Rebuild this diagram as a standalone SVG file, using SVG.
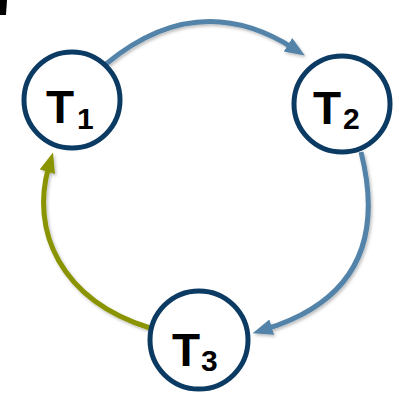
<svg xmlns="http://www.w3.org/2000/svg" width="399" height="394" viewBox="0 0 399 394">
<style>
.node circle{fill:#fff;stroke:#0b3a63;stroke-width:5}
.big{font-family:"Liberation Sans",Arial,sans-serif;font-weight:bold;font-size:46px;fill:#000}
.sub{font-family:"Liberation Sans",Arial,sans-serif;font-weight:bold;font-size:30px;fill:#000}
.e{fill:none;stroke-width:5;filter:url(#sh)}
.blue{stroke:#5283a8}
.olive{stroke:#8a9400}
</style>
<defs>
<filter id="sh" x="-20%" y="-20%" width="140%" height="140%">
<feDropShadow dx="1.5" dy="2" stdDeviation="1.5" flood-color="#000" flood-opacity="0.25"/>
</filter>
<marker id="ab" markerUnits="userSpaceOnUse" markerWidth="22" markerHeight="18" refX="6" refY="8" orient="auto">
<path d="M0,0 L20,8 L0,16 z" fill="#5283a8"/>
</marker>
<marker id="ao" markerUnits="userSpaceOnUse" markerWidth="22" markerHeight="18" refX="6" refY="8" orient="auto">
<path d="M0,0 L20,8 L0,16 z" fill="#8a9400"/>
</marker>
</defs>
<path d="M0,0 L7,0 L6,15 L0,15 z" fill="#000"/>
<g id="connectors">
<path class="e blue" d="M106,64 Q198,-12 293,48" marker-end="url(#ab)"/>
<path class="e blue" d="M361,152 C382,235 360,300 266,329" marker-end="url(#ab)"/>
<path class="e olive" d="M150,328 C60,300 30,230 49,166" marker-end="url(#ao)"/>
</g>
<g id="T1" class="node">
<circle cx="72" cy="100" r="48"/>
<text x="46" y="123" class="big">T</text><text x="77" y="129" class="sub">1</text>
</g>
<g id="T2" class="node">
<circle cx="342" cy="104" r="48"/>
<text x="313" y="124" class="big">T</text><text x="343" y="129" class="sub">2</text>
</g>
<g id="T3" class="node">
<circle cx="199" cy="340" r="49"/>
<text x="172" y="366" class="big">T</text><text x="201" y="371" class="sub">3</text>
</g>
</svg>
